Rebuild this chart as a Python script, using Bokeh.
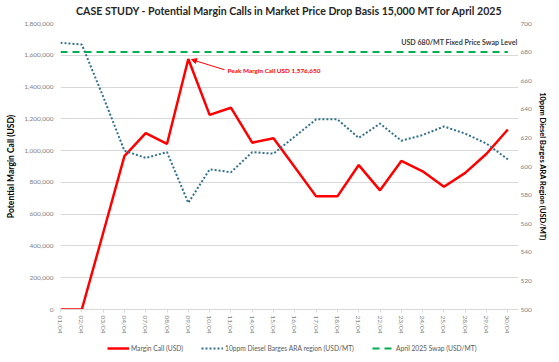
import math
from bokeh.plotting import figure
from bokeh.layouts import column
from bokeh.models import (Range1d, LinearAxis, FixedTicker, NumeralTickFormatter,
                          Legend, LegendItem, Label, Arrow, NormalHead, ColumnDataSource, Title)
from bokeh.embed import file_html
from bokeh.resources import INLINE

dates = ["01/04", "02/04", "03/04", "04/04", "07/04", "08/04", "09/04", "10/04", "11/04",
         "14/04", "15/04", "16/04", "17/04", "18/04", "21/04", "22/04", "23/04", "24/04",
         "25/04", "28/04", "29/04", "30/04"]
margin_call = [0, 0, 480000, 965000, 1110000, 1042000, 1576650, 1225000, 1270000,
               1050000, 1078000, 895000, 712000, 712000, 909000, 750000, 935000, 870000,
               773000, 860000, 980000, 1133000]
diesel_price = [686.5, 685.3, 649, 611, 606, 610, 574.6, 598, 596,
                610, 609, 621, 633, 633, 620, 630, 618, 622,
                628, 623, 616, 605]
swap_price = [680] * len(dates)
series_names = ["Margin Call (USD)", "10ppm Diesel Barges ARA region (USD/MT)", "April 2025 Swap (USD/MT)"]

x = list(range(len(dates)))
FONT = "Lato"
GREY = "#7f7f7f"
RED, BLUE, GREEN = "#ff0000", "#31708f", "#00b050"

p = figure(width=551, height=340, output_backend="svg", toolbar_location=None,
           x_range=Range1d(0, 21.5), y_range=Range1d(0, 1800000),
           min_border_left=60, min_border_right=33, min_border_top=0, min_border_bottom=31)
p.extra_y_ranges = {"price": Range1d(500, 700)}

p.title = Title(text="CASE STUDY - Potential Margin Calls in Market Price Drop Basis 15,000 MT for April 2025",
                align="center", vertical_align="top", text_font=FONT, text_font_size="10.6px",
                text_font_style="bold", text_color="#262626", standoff=9, offset=0)

p.outline_line_color = None
p.background_fill_color = "white"
p.border_fill_color = "white"
p.xgrid.grid_line_color = None
p.ygrid.grid_line_color = "#d9d9d9"
p.ygrid.grid_line_width = 1
p.ygrid.ticker = FixedTicker(ticks=list(range(0, 1800001, 200000)))

# left axis
la = p.yaxis[0]
la.ticker = FixedTicker(ticks=list(range(0, 1800001, 200000)))
la.formatter = NumeralTickFormatter(format="0,0")
la.axis_label = "Potential Margin Call (USD)"
la.axis_label_text_font = FONT
la.axis_label_text_font_size = "8.5px"
la.axis_label_text_font_style = "bold"
la.axis_label_text_color = "#000000"
la.axis_label_standoff = 5
la.major_label_text_font = FONT
la.major_label_text_font_size = "6.5px"
la.major_label_text_color = GREY
la.axis_line_color = None
la.major_tick_line_color = None
la.major_tick_out = 0
la.major_tick_in = 0
la.minor_tick_line_color = None
la.minor_tick_out = 0
la.major_label_standoff = 7

# right axis
ra = LinearAxis(y_range_name="price")
ra.ticker = FixedTicker(ticks=list(range(500, 701, 20)))
ra.axis_label = "10ppm Diesel Barges ARA Region (USD/MT)"
ra.axis_label_orientation = "vertical"
ra.axis_label_text_font = FONT
ra.axis_label_text_font_size = "7.5px"
ra.axis_label_text_font_style = "bold"
ra.axis_label_text_color = "#000000"
ra.axis_label_standoff = 3
ra.major_label_text_font = FONT
ra.major_label_text_font_size = "6.5px"
ra.major_label_text_color = GREY
ra.axis_line_color = None
ra.major_tick_line_color = None
ra.major_tick_out = 0
ra.major_tick_in = 0
ra.minor_tick_line_color = None
ra.minor_tick_out = 0
ra.major_label_standoff = 2
p.add_layout(ra, "right")

# bottom axis
xa = p.xaxis[0]
xa.ticker = FixedTicker(ticks=x)
xa.major_label_overrides = {i: d for i, d in enumerate(dates)}
xa.major_label_orientation = -math.pi / 2
xa.major_label_text_font = FONT
xa.major_label_text_font_size = "6.5px"
xa.major_label_text_color = GREY
xa.axis_line_color = "#d9d9d9"
xa.major_tick_line_color = "#d9d9d9"
xa.major_tick_in = 0
xa.major_tick_out = 3
xa.minor_tick_line_color = None
xa.major_label_standoff = 3

src = ColumnDataSource(dict(x=x, mc=margin_call, dp=diesel_price, sw=swap_price))

p.line("x", "mc", source=src, line_color=RED, line_width=2.5)
p.line("x", "dp", source=src, y_range_name="price", line_color=BLUE, line_width=2, line_dash="2 2")
p.line("x", "sw", source=src, y_range_name="price", line_color=GREEN, line_width=2, line_dash="7 5")

# annotations
p.add_layout(Arrow(end=NormalHead(size=5, fill_color=RED, line_color=RED),
                   x_start=7.70, y_start=1509000, x_end=6.15, y_end=1573000,
                   line_color=RED, line_width=1))
p.add_layout(Label(x=7.84, y=1503000, text="Peak Margin Call USD 1,576,650",
                   text_font=FONT, text_font_size="6.4px", text_font_style="bold",
                   text_color=RED, text_baseline="middle"))
p.add_layout(Label(x=21.45, y=686.5, y_range_name="price", text="USD 680/MT Fixed Price Swap Level",
                   text_font=FONT, text_font_size="7.1px", text_font_style="bold",
                   text_color="#404040", text_align="right", text_baseline="middle"))

# legend strip below the chart (its series lie outside this strip's range, only the key shows)
lg = figure(width=551, height=14, output_backend="svg", toolbar_location=None,
            min_border=0, x_range=Range1d(0, 21.5), y_range=Range1d(-2, -1))
lg.axis.visible = False
lg.grid.grid_line_color = None
lg.outline_line_color = None
g1 = lg.line("x", "mc", source=src, line_color=RED, line_width=2.5)
g2 = lg.line("x", "dp", source=src, line_color=BLUE, line_width=2, line_dash="2 2")
g3 = lg.line("x", "sw", source=src, line_color=GREEN, line_width=2, line_dash="7 5")
legend = Legend(items=[LegendItem(label=series_names[0], renderers=[g1]),
                       LegendItem(label=series_names[1], renderers=[g2]),
                       LegendItem(label=series_names[2], renderers=[g3])],
                orientation="horizontal", location=(47, 2),
                label_text_font=FONT, label_text_font_size="6.7px", label_text_color="#595959",
                border_line_color=None, background_fill_alpha=0,
                padding=0, margin=0, spacing=18, glyph_width=22, glyph_height=8,
                label_height=8, label_standoff=2)
lg.add_layout(legend, "center")

layout = column(p, lg, spacing=0)
open("out.html", "w").write(file_html(layout, INLINE))
